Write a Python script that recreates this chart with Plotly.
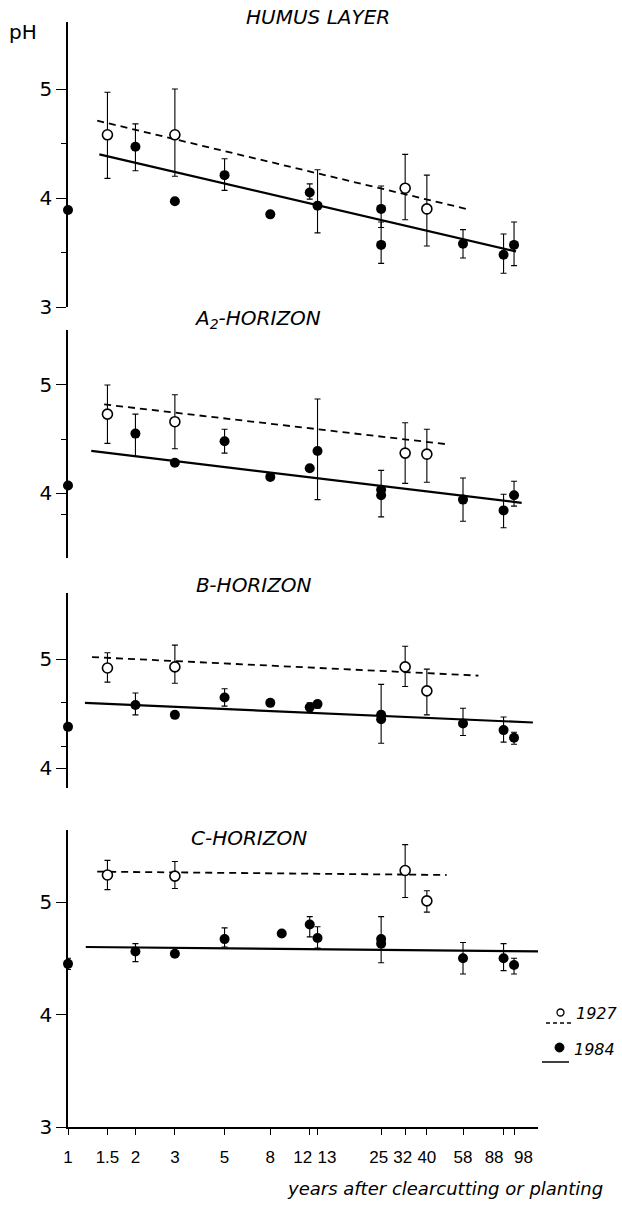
import plotly.graph_objects as go

# ---------------- data ----------------
years_1927 = [1.5, 3, 32, 40]
years_1984 = [1, 2, 3, 5, 8, 12, 13, 25, 25, 58, 88, 98]
years_1984_c = [1, 2, 3, 5, 9, 12, 13, 25, 25, 58, 88, 98]

# HUMUS LAYER
h27_ph = [4.58, 4.58, 4.09, 3.90]
h27_hi = [4.97, 5.00, 4.40, 4.21]
h27_lo = [4.18, 4.20, 3.80, 3.56]
h84_ph = [3.89, 4.47, 3.97, 4.21, 3.85, 4.05, 3.93, 3.90, 3.57, 3.58, 3.48, 3.57]
h84_hi = [None, 4.68, None, 4.36, None, 4.13, 4.26, 4.11, 3.78, 3.71, 3.67, 3.78]
h84_lo = [None, 4.25, None, 4.07, None, 3.99, 3.68, 3.73, 3.40, 3.45, 3.31, 3.38]
h27_trend_x, h27_trend_y = [1.35, 60], [4.71, 3.90]
h84_trend_x, h84_trend_y = [1.38, 100], [4.40, 3.51]

# A2-HORIZON
a27_ph = [4.73, 4.66, 4.37, 4.36]
a27_hi = [5.00, 4.91, 4.65, 4.59]
a27_lo = [4.46, 4.41, 4.09, 4.10]
a84_ph = [4.07, 4.55, 4.28, 4.48, 4.15, 4.23, 4.39, 4.03, 3.98, 3.94, 3.84, 3.98]
a84_hi = [None, 4.73, None, 4.59, None, None, 4.87, 4.21, None, 4.14, 3.99, 4.11]
a84_lo = [None, 4.34, None, 4.37, None, None, 3.94, 3.78, None, 3.74, 3.68, 3.88]
a27_trend_x, a27_trend_y = [1.45, 50], [4.82, 4.45]
a84_trend_x, a84_trend_y = [1.27, 106], [4.39, 3.91]

# B-HORIZON
b27_ph = [4.92, 4.93, 4.93, 4.71]
b27_hi = [5.06, 5.13, 5.12, 4.91]
b27_lo = [4.79, 4.78, 4.75, 4.49]
b84_ph = [4.38, 4.58, 4.49, 4.65, 4.60, 4.56, 4.59, 4.49, 4.45, 4.41, 4.35, 4.28]
b84_hi = [None, 4.69, None, 4.73, None, 4.60, 4.62, 4.77, None, 4.55, 4.47, 4.33]
b84_lo = [None, 4.49, None, 4.57, None, 4.52, 4.55, 4.23, None, 4.30, 4.24, 4.22]
b27_trend_x, b27_trend_y = [1.28, 68], [5.02, 4.85]
b84_trend_x, b84_trend_y = [1.19, 119], [4.60, 4.42]

# C-HORIZON
c27_ph = [5.24, 5.23, 5.28, 5.01]
c27_hi = [5.37, 5.36, 5.51, 5.10]
c27_lo = [5.11, 5.12, 5.04, 4.91]
c84_ph = [4.45, 4.56, 4.54, 4.67, 4.72, 4.80, 4.68, 4.67, 4.63, 4.50, 4.50, 4.44]
c84_hi = [4.50, 4.63, None, 4.77, None, 4.87, 4.78, 4.87, None, 4.64, 4.63, 4.50]
c84_lo = [4.40, 4.47, None, 4.60, None, 4.69, 4.59, 4.46, None, 4.36, 4.39, 4.36]
c27_trend_x, c27_trend_y = [1.35, 49], [5.27, 5.24]
c84_trend_x, c84_trend_y = [1.2, 131], [4.60, 4.56]

NB = "\u00a0"
x_tickvals = [1, 1.5, 2, 3, 5, 8, 12, 13, 25, 32, 40, 58, 88, 98]
x_ticktext = ["1", "1.5", "2", "3", "5", "8", "12" + NB * 3, NB * 4 + "13",
              "25" + NB, "32" + NB, "40", "58", "88" + NB * 4, NB * 4 + "98"]

panel_titles = ["HUMUS LAYER", "A<sub>2</sub>-HORIZON", "B-HORIZON", "C-HORIZON"]

# ---------------- figure ----------------
W, H = 622, 1205
fig = go.Figure()


def err(ph, hi, lo):
    plus = [None if h is None else round(h - p, 3) for p, h in zip(ph, hi)]
    minus = [None if l is None else round(p - l, 3) for p, l in zip(ph, lo)]
    return plus, minus


panels = [
    ("y", h27_ph, h27_hi, h27_lo, years_1984, h84_ph, h84_hi, h84_lo,
     h27_trend_x, h27_trend_y, h84_trend_x, h84_trend_y),
    ("y2", a27_ph, a27_hi, a27_lo, years_1984, a84_ph, a84_hi, a84_lo,
     a27_trend_x, a27_trend_y, a84_trend_x, a84_trend_y),
    ("y3", b27_ph, b27_hi, b27_lo, years_1984, b84_ph, b84_hi, b84_lo,
     b27_trend_x, b27_trend_y, b84_trend_x, b84_trend_y),
    ("y4", c27_ph, c27_hi, c27_lo, years_1984_c, c84_ph, c84_hi, c84_lo,
     c27_trend_x, c27_trend_y, c84_trend_x, c84_trend_y),
]

for (ya, p27, hi27, lo27, yrs84, p84, hi84, lo84, t27x, t27y, t84x, t84y) in panels:
    fig.add_trace(go.Scatter(x=t27x, y=t27y, mode="lines", xaxis="x", yaxis=ya,
                             line=dict(color="black", width=1.8, dash="7px,5px"),
                             showlegend=False, hoverinfo="skip"))
    fig.add_trace(go.Scatter(x=t84x, y=t84y, mode="lines", xaxis="x", yaxis=ya,
                             line=dict(color="black", width=2.2),
                             showlegend=False, hoverinfo="skip"))
    pl, mi = err(p84, hi84, lo84)
    fig.add_trace(go.Scatter(x=yrs84, y=p84, mode="markers", xaxis="x", yaxis=ya,
                             marker=dict(symbol="circle", size=10, color="black"),
                             error_y=dict(type="data", symmetric=False, array=pl, arrayminus=mi,
                                          color="black", thickness=1.1, width=3),
                             cliponaxis=False, showlegend=False))
    pl, mi = err(p27, hi27, lo27)
    fig.add_trace(go.Scatter(x=years_1927, y=p27, mode="markers", xaxis="x", yaxis=ya,
                             marker=dict(symbol="circle", size=10, color="white",
                                         line=dict(color="black", width=1.6)),
                             error_y=dict(type="data", symmetric=False, array=pl, arrayminus=mi,
                                          color="black", thickness=1.1, width=3),
                             cliponaxis=False, showlegend=False))

tick_font = dict(family="DejaVu Sans", size=20, color="black")
yaxis_common = dict(anchor="x", showline=True, linecolor="black", linewidth=1.5,
                    ticks="outside", ticklen=10, tickwidth=1.3, tickcolor="black",
                    showgrid=False, zeroline=False, tickfont=tick_font, automargin=False)


def ydom(top_px, bot_px):
    return [1 - bot_px / H, 1 - top_px / H]


fig.update_layout(
    width=W, height=H, autosize=False,
    margin=dict(l=0, r=0, t=0, b=0),
    paper_bgcolor="white", plot_bgcolor="white",
    xaxis=dict(type="log", range=[0, 2.0982], domain=[68 / W, 538 / W], anchor="y4",
               showline=True, linecolor="black", linewidth=1.5,
               ticks="outside", ticklen=6, tickwidth=1.2, tickcolor="black",
               tickvals=x_tickvals, ticktext=x_ticktext, tickangle=0,
               tickfont=dict(family="Liberation Sans Narrow, Liberation Sans, Arial",
                             size=17, color="black"),
               ticklabelstandoff=8, automargin=False,
               showgrid=False, zeroline=False),
    yaxis=dict(yaxis_common, range=[3.0, 5.615], domain=ydom(22, 307), tickvals=[3, 4, 5],
               minor=dict(tickvals=[3.5, 4.5], ticks="outside", ticklen=5, tickcolor="black")),
    yaxis2=dict(yaxis_common, range=[3.40, 5.508], domain=ydom(330, 558), tickvals=[4, 5],
                minor=dict(tickvals=[3.8, 4.5], ticks="outside", ticklen=5, tickcolor="black")),
    yaxis3=dict(yaxis_common, range=[3.819, 5.608], domain=ydom(593, 788), tickvals=[4, 5],
                minor=dict(tickvals=[4.2, 4.6], ticks="outside", ticklen=5, tickcolor="black")),
    yaxis4=dict(yaxis_common, range=[3.0, 5.64], domain=ydom(830, 1127), tickvals=[3, 4, 5]),
)

title_font = dict(family="DejaVu Sans", size=20, color="black", style="italic")
title_pos = [(318, 17), (257, 319), (254, 585), (249, 838)]
for txt, (xp, yp) in zip(panel_titles, title_pos):
    fig.add_annotation(text=txt, x=xp / W, y=1 - yp / H, xref="paper", yref="paper",
                       showarrow=False, xanchor="center", yanchor="middle", font=title_font)

fig.add_annotation(text="pH", x=23 / W, y=1 - 32 / H, xref="paper", yref="paper",
                   showarrow=False, xanchor="center", yanchor="middle",
                   font=dict(family="DejaVu Sans", size=20, color="black"))

fig.add_annotation(text="years after clearcutting or planting", x=605 / W, y=1 - 1188 / H,
                   xref="paper", yref="paper", showarrow=False, xanchor="right", yanchor="middle",
                   font=dict(family="DejaVu Sans", size=18, color="black", style="italic"))

# legend (drawn manually)
leg_font = dict(family="DejaVu Sans", size=16, color="black", style="italic")
fig.add_annotation(text="1927", x=574 / W, y=1 - 1013 / H, xref="paper", yref="paper",
                   showarrow=False, xanchor="left", yanchor="middle", font=leg_font)
fig.add_annotation(text="1984", x=572 / W, y=1 - 1049 / H, xref="paper", yref="paper",
                   showarrow=False, xanchor="left", yanchor="middle", font=leg_font)
fig.add_shape(type="circle", xref="paper", yref="paper",
              x0=557 / W, x1=564 / W, y0=1 - 1016 / H, y1=1 - 1009 / H,
              line=dict(color="black", width=1.3), fillcolor="white")
fig.add_shape(type="line", xref="paper", yref="paper",
              x0=546 / W, x1=571 / W, y0=1 - 1023 / H, y1=1 - 1023 / H,
              line=dict(color="black", width=1.3, dash="4px,3px"))
fig.add_shape(type="circle", xref="paper", yref="paper",
              x0=555 / W, x1=564 / W, y0=1 - 1052 / H, y1=1 - 1043 / H,
              line=dict(color="black", width=1), fillcolor="black")
fig.add_shape(type="line", xref="paper", yref="paper",
              x0=542 / W, x1=569 / W, y0=1 - 1062 / H, y1=1 - 1062 / H,
              line=dict(color="black", width=1.5))

fig.write_html(
    "out.html",
    config={"displayModeBar": False},
    post_script="document.body.style.margin='0';document.body.style.padding='0';"
                "document.body.style.overflow='hidden';",
)
